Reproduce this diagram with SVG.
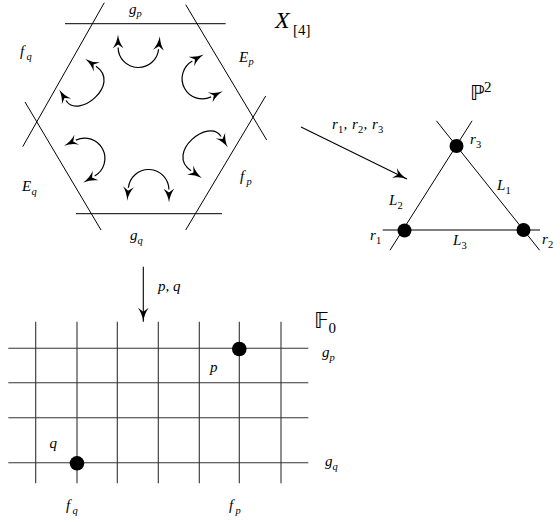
<svg xmlns="http://www.w3.org/2000/svg" width="560" height="522" viewBox="0 0 560 522">
<style>
.ln{stroke:#000;stroke-width:1;fill:none}
.gr{stroke:#333;stroke-width:1.1;fill:none}
.ar{stroke:#000;stroke-width:1.2;fill:none;marker-start:url(#ah);marker-end:url(#ah)}
.st{stroke:#000;stroke-width:1.1;fill:none;marker-end:url(#at)}
text{font-family:"Liberation Serif","DejaVu Serif",serif;font-style:italic;font-size:15px;fill:#000}
.sub{font-size:10.5px}
.up{font-style:normal}
.bb{font-family:"DejaVu Sans","DejaVu Serif",sans-serif;font-style:normal;font-size:21px}
.dot{fill:#000}
</style>
<defs>
<marker id="ah" markerUnits="userSpaceOnUse" markerWidth="18" markerHeight="14" viewBox="0 -7 18 14" refX="1" refY="0" orient="auto-start-reverse"><path d="M0,-5.5 Q6,-1 14,0 Q6,1 0,5.5 L4,0 Z" fill="#000"/></marker>
<marker id="at" markerUnits="userSpaceOnUse" markerWidth="18" markerHeight="14" viewBox="0 -7 18 14" refX="14" refY="0" orient="auto"><path d="M0,-5.5 Q6,-1 14,0 Q6,1 0,5.5 L4,0 Z" fill="#000"/></marker>
</defs>

<g id="hexagon">
<line class="ln" x1="65" y1="23.7" x2="225.7" y2="23.7"/>
<line class="ln" x1="104.3" y1="2.7" x2="22.7" y2="146.7"/>
<line class="ln" x1="25" y1="102" x2="101" y2="230"/>
<line class="ln" x1="76" y1="213.7" x2="222" y2="213.7"/>
<line class="ln" x1="185.7" y1="4.7" x2="266.7" y2="140"/>
<line class="ln" x1="265.7" y1="96" x2="185.7" y2="230"/>
<text x="129" y="14">g<tspan class="sub" x="136.5" y="17">p</tspan></text>
<text x="20" y="56">f<tspan class="sub" x="26.5" y="59.5">q</tspan></text>
<text x="239" y="61.5">E<tspan class="sub" x="248.5" y="65">p</tspan></text>
<text x="22" y="191">E<tspan class="sub" x="31.5" y="194.5">q</tspan></text>
<text x="240" y="181">f<tspan class="sub" x="246.5" y="184.5">p</tspan></text>
<text x="130" y="240">g<tspan class="sub" x="137.5" y="243.5">q</tspan></text>
<text x="275" y="28" style="font-size:24px">X<tspan class="up" x="293" y="35" style="font-size:15px">[4]</tspan></text>
</g>

<g id="flips">
<path class="ar" d="M118.1,47.4 A20.3,20.3 0 0 0 158.6,49.2"/>
<path class="ar" d="M192.35,60.92 A20.3,20.3 0 0 0 211.1,96.9"/>
<path class="ar" d="M221,136.5 C209,117 165,153 191,170.7"/>
<path class="ar" d="M168.9,189.6 A20.3,20.3 0 0 0 128.4,187.8"/>
<path class="ar" d="M94.65,176.08 A20.3,20.3 0 0 0 75.9,140.1"/>
<path class="ar" d="M66,100.5 C78,120 122,84 96,66.3"/>
</g>

<g id="p2">
<line class="ln" x1="436.4" y1="120.8" x2="539.6" y2="250.2"/>
<line class="ln" x1="472.1" y1="120.8" x2="390" y2="250.2"/>
<line class="ln" x1="382.7" y1="230" x2="540" y2="230"/>
<circle class="dot" cx="456.5" cy="146" r="7"/>
<circle class="dot" cx="404.5" cy="230.5" r="7"/>
<circle class="dot" cx="523.5" cy="230" r="7"/>
<text x="470" y="144">r<tspan class="sub up" x="476" y="147.5">3</tspan></text>
<text x="497" y="190">L<tspan class="sub up" x="505.5" y="193.5">1</tspan></text>
<text x="389" y="205">L<tspan class="sub up" x="397.5" y="208.5">2</tspan></text>
<text x="370" y="240">r<tspan class="sub up" x="376" y="243.5">1</tspan></text>
<text x="453" y="245">L<tspan class="sub up" x="461.5" y="248.5">3</tspan></text>
<text x="542" y="244">r<tspan class="sub up" x="548" y="247.5">2</tspan></text>
<text class="bb" x="470" y="100">ℙ<tspan class="up" x="484" y="92" style="font-family:'Liberation Serif',serif;font-size:15px">2</tspan></text>
</g>

<g id="f0">
<line class="gr" x1="35.7" y1="321.7" x2="35.7" y2="483.3"/>
<line class="gr" x1="77" y1="321.7" x2="77" y2="483.3"/>
<line class="gr" x1="117.3" y1="321.7" x2="117.3" y2="483.3"/>
<line class="gr" x1="158.3" y1="321.7" x2="158.3" y2="483.3"/>
<line class="gr" x1="199.3" y1="321.7" x2="199.3" y2="483.3"/>
<line class="gr" x1="239.3" y1="321.7" x2="239.3" y2="483.3"/>
<line class="gr" x1="281" y1="321.7" x2="281" y2="483.3"/>
<line class="gr" x1="8.3" y1="348.3" x2="308.3" y2="348.3"/>
<line class="gr" x1="8.3" y1="382.7" x2="308.3" y2="382.7"/>
<line class="gr" x1="8.3" y1="417.7" x2="308.3" y2="417.7"/>
<line class="gr" x1="8.3" y1="462.7" x2="308.3" y2="462.7"/>
<circle class="dot" cx="239.3" cy="349" r="7.3"/>
<circle class="dot" cx="77" cy="463.3" r="7.3"/>
<text x="322" y="357">g<tspan class="sub" x="329.5" y="360.5">p</tspan></text>
<text x="210" y="372">p</text>
<text x="49.5" y="448">q</text>
<text x="325" y="466">g<tspan class="sub" x="332.5" y="469.5">q</tspan></text>
<text x="66" y="510">f<tspan class="sub" x="72.5" y="513.5">q</tspan></text>
<text x="229" y="510">f<tspan class="sub" x="235.5" y="513.5">p</tspan></text>
<text class="bb" x="314" y="328" style="font-size:22px">𝔽<tspan class="up" x="328.5" y="333" style="font-family:'Liberation Serif',serif;font-size:15px">0</tspan></text>
</g>

<g id="connectors">
<line class="st" x1="301" y1="127" x2="407" y2="179"/>
<line class="st" x1="143.3" y1="266.7" x2="143.3" y2="321.7"/>
<text x="332" y="129">r<tspan class="sub up" x="338" y="132.5">1</tspan><tspan x="343.5" y="129">,</tspan><tspan x="352">r</tspan><tspan class="sub up" x="358" y="132.5">2</tspan><tspan x="363.5" y="129">,</tspan><tspan x="372">r</tspan><tspan class="sub up" x="378" y="132.5">3</tspan></text>
<text x="158" y="291">p, q</text>
</g>
</svg>
